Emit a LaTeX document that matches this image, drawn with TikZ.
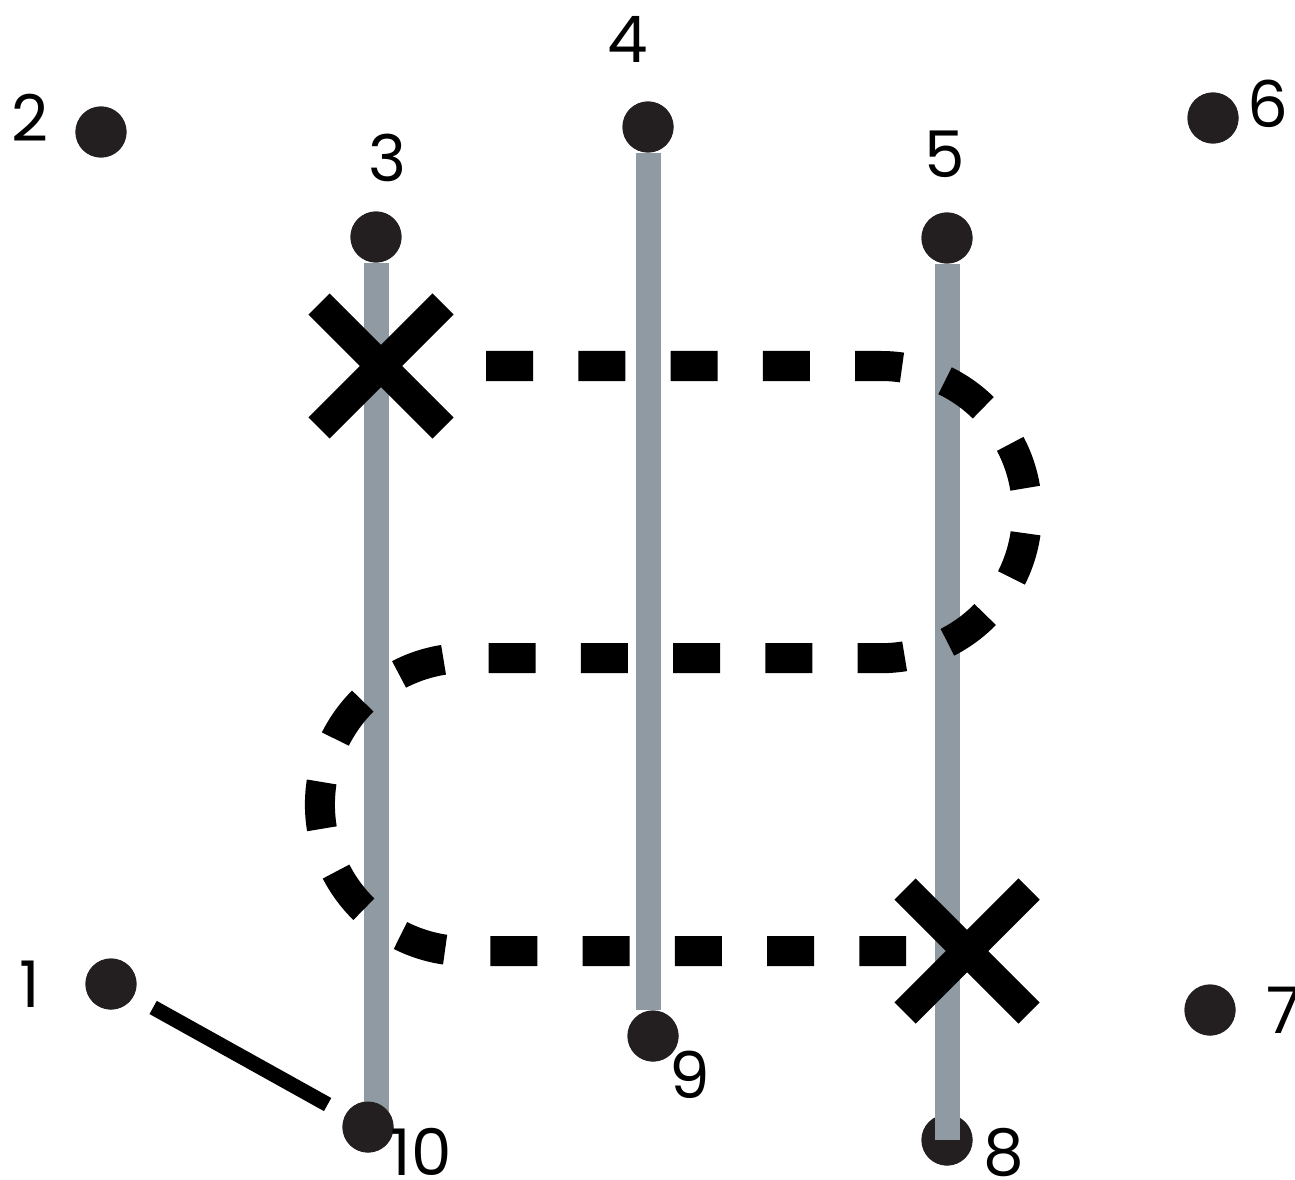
\documentclass[tikz,border=0pt]{standalone}
\usepackage{fontspec}
\setmainfont{Poppins}
\usepackage{tikz}
\usetikzlibrary{positioning}
\definecolor{dotcolor}{RGB}{35,31,32}
\definecolor{railcolor}{RGB}{143,154,162}

\begin{document}
\begin{tikzpicture}[x=0.01cm, y=-0.01cm,
    dot/.style={circle, fill=dotcolor, minimum size=0.51cm, inner sep=0},
    num/.style={anchor=base, inner sep=0, font=\fontsize{18.3}{20}\selectfont},
    rail/.style={railcolor, line width=0.25cm},
    cross/.style={black, line width=0.3cm},
    route/.style={black, line width=0.3cm, dash pattern=on 0.47cm off 0.452cm}]
    \useasboundingbox (0,0) rectangle (1295,1179);

    % the points
    \foreach \ii/\xx/\yy in {1/111/984, 2/101/132, 3/376/237, 4/648/127, 5/947/238,
                             6/1213/118, 7/1210/1010, 8/947/1140, 9/653/1036, 10/368/1127}{
        \node[dot] (d\ii) at (\xx,\yy) {};
    }

    % grey rails
    \draw[rail] (d3.south) -- (d3.south |- d10);
    \draw[rail] (d4) -- (d4 |- d9.north);
    \foreach \ii in {1,2,...,10}{
        \node[dot] at (d\ii) {};
    }
    \draw[rail] (d5.south) -- (d5.south |- d8);

    % first stroke
    \draw[black, line width=0.15cm, shorten <=0.22cm, shorten >=0.2cm] (d1) -- (d10);

    % dashed route
    \coordinate (r0) at (486,366);
    \coordinate (r1) at (881,366);
    \coordinate (r2) at (466.5,658);
    \coordinate (r3) at (906,951);
    \draw[route] (r0) -- (r1) arc[start angle=90, end angle=-90, radius=1.46cm]
        -- (r2) arc[start angle=90, end angle=270, radius=1.465cm] -- (r3);

    % crosses
    \coordinate (xa) at (381,366);
    \coordinate (xb) at (967,951);
    \foreach \cc in {xa,xb}{
        \draw[cross] (\cc) ++(-62,-62) -- ++(124,124);
        \draw[cross] (\cc) ++(-62,62) -- ++(124,-124);
    }

    % numbers
    \foreach \ii/\xx/\yy in {1/30/1007, 2/30/142, 3/387/182, 4/628/63, 5/945/177,
                             6/1268/128, 7/1284/1033, 8/1004/1175, 9/690/1098, 10/421/1175}{
        \node[num] (n\ii) at (\xx,\yy) {\ii};
    }
\end{tikzpicture}
\end{document}
